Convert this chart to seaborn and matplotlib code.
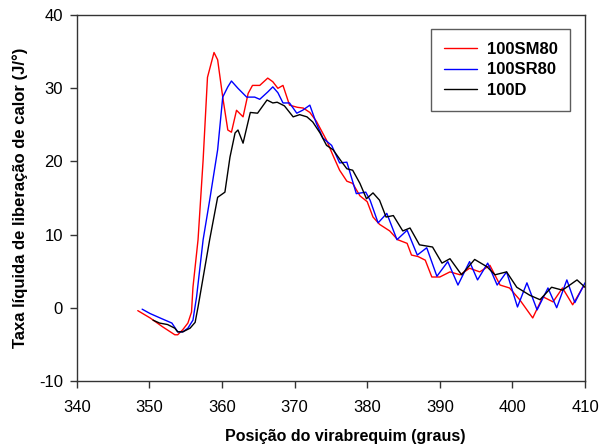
import matplotlib
matplotlib.use("Agg")
import matplotlib.pyplot as plt
import seaborn as sns
import pandas as pd

# ---- data ----
x_sm80 = [348.4, 350.1, 351.8, 353.5, 353.9, 354.6, 355.3, 355.8, 356.0, 356.7, 357.4, 358.0, 358.9, 359.4,
          360.1, 360.8, 361.3, 362.0, 362.9, 363.6, 364.2, 365.2, 366.3, 367.0, 367.7, 368.4, 369.3, 370.4,
          371.2, 372.1, 373.0, 374.4, 375.3, 376.2, 377.2, 378.0, 379.0, 380.0, 380.8, 381.7, 383.1, 384.2,
          385.5, 386.1, 387.0, 388.0, 388.9, 390.0, 391.4, 392.8, 394.1, 395.5, 396.9, 398.3, 399.6, 401.0,
          402.8, 404.2, 405.6, 406.9, 408.3, 409.7, 410.0]
y_sm80 = [-0.4, -1.4, -2.6, -3.7, -3.7, -3.0, -2.1, -0.6, 2.8, 9.3, 20.2, 31.5, 34.9, 33.9,
          28.8, 24.3, 24.0, 27.0, 26.1, 29.3, 30.4, 30.4, 31.4, 30.9, 30.0, 30.4, 27.7, 27.4,
          27.3, 26.7, 25.5, 22.9, 20.8, 18.8, 17.3, 17.0, 15.3, 14.5, 12.4, 11.4, 10.5, 9.3,
          8.8, 7.2, 7.0, 6.5, 4.2, 4.2, 4.9, 4.5, 5.4, 4.9, 5.8, 3.1, 2.7, 1.1,
          -1.4, 1.5, 0.8, 2.7, 0.4, 2.8, 2.9]

x_sr80 = [349.0, 350.1, 351.7, 353.1, 353.9, 354.6, 355.3, 356.0, 356.5, 357.4, 358.3, 359.4, 360.1, 360.8,
          361.3, 362.2, 363.4, 364.5, 365.2, 366.3, 367.0, 367.7, 368.4, 369.3, 370.3, 371.1, 372.1, 373.0,
          373.9, 375.1, 376.2, 377.2, 378.5, 379.8, 380.4, 381.5, 382.7, 384.1, 385.5, 386.9, 388.2, 389.6,
          391.1, 392.5, 394.1, 395.2, 396.6, 397.9, 399.2, 400.7, 402.0, 403.4, 404.9, 406.1, 407.5, 408.6,
          410.0]
y_sr80 = [-0.2, -0.8, -1.5, -2.1, -3.3, -3.3, -2.8, -1.7, 1.5, 9.3, 14.7, 21.6, 28.8, 30.2,
          31.0, 30.0, 28.8, 28.8, 28.5, 29.5, 30.2, 29.4, 28.0, 28.0, 26.6, 27.0, 27.7, 25.2,
          23.2, 22.2, 19.8, 19.9, 15.6, 15.8, 14.7, 11.6, 12.9, 9.3, 10.6, 7.2, 8.2, 4.3,
          6.3, 3.1, 6.3, 3.8, 6.1, 3.1, 4.9, 0.1, 3.4, -0.3, 2.7, 0.0, 3.8, 0.7,
          3.4]

x_d = [350.5, 351.4, 352.5, 353.5, 353.9, 354.6, 355.6, 356.3, 356.7, 358.3, 359.4, 360.4, 361.1, 361.8,
       362.2, 362.9, 363.9, 364.9, 366.2, 367.0, 367.6, 368.6, 369.8, 370.7, 371.7, 372.5, 373.5, 374.4,
       375.3, 376.3, 377.2, 378.0, 379.0, 379.9, 380.8, 381.7, 382.6, 383.6, 384.9, 385.9, 387.2, 389.0,
       390.3, 391.4, 393.0, 394.8, 396.5, 397.6, 399.2, 400.6, 402.4, 403.8, 405.4, 406.9, 408.9, 410.0]
y_d = [-1.7, -2.1, -2.3, -2.8, -3.3, -3.3, -2.8, -2.0, 0.1, 9.3, 15.1, 15.8, 20.6, 23.9,
       24.3, 22.5, 26.7, 26.6, 28.4, 28.0, 28.1, 27.6, 26.1, 26.4, 26.1, 25.4, 23.9, 22.2,
       21.6, 20.2, 19.0, 18.8, 17.0, 14.9, 15.7, 14.7, 12.4, 12.6, 10.5, 10.9, 8.6, 8.3,
       6.1, 6.7, 4.5, 6.6, 5.6, 4.5, 4.9, 2.8, 1.7, 1.1, 2.8, 2.4, 3.8, 2.8]

series_names = ["100SM80", "100SR80", "100D"]
series_colors = ["#ff0000", "#0000ff", "#000000"]

df = pd.concat([
    pd.DataFrame({"x": x_sm80, "y": y_sm80, "serie": series_names[0]}),
    pd.DataFrame({"x": x_sr80, "y": y_sr80, "serie": series_names[1]}),
    pd.DataFrame({"x": x_d, "y": y_d, "serie": series_names[2]}),
], ignore_index=True)

sns.set_style("ticks")
plt.rcParams["font.family"] = ["Liberation Sans", "DejaVu Sans"]
plt.rcParams["axes.unicode_minus"] = False
plt.rcParams["text.color"] = "black"
plt.rcParams["axes.labelcolor"] = "black"
plt.rcParams["xtick.color"] = "black"
plt.rcParams["ytick.color"] = "black"

fig = plt.figure(figsize=(6.0, 4.47), dpi=100)
ax = fig.add_axes([0.128, 0.148, 0.847, 0.818])

sns.lineplot(data=df, x="x", y="y", hue="serie", palette=dict(zip(series_names, series_colors)),
             hue_order=series_names, sort=False, estimator=None, linewidth=1.0, ax=ax)

ax.set_xlim(340, 410)
ax.set_ylim(-10, 40)
ax.set_xticks(range(340, 411, 10))
ax.set_yticks(range(-10, 41, 10))
for s in ax.spines.values():
    s.set_color("#333333")
    s.set_linewidth(1.0)
ax.tick_params(axis="both", direction="out", length=5, width=1, color="#333333",
               labelsize=12, labelcolor="black")
ax.tick_params(axis="x", pad=9)
ax.tick_params(axis="y", pad=5)
ax.tick_params(top=False, right=False)

ax.set_xlabel("Posição do virabrequim (graus)", fontsize=11.5, fontweight="bold")
ax.xaxis.set_label_coords(0.528, -0.132)
ax.set_ylabel("Taxa líquida de liberação de calor (J/°)", fontsize=12, fontweight="bold", labelpad=8)

leg = ax.legend(loc="upper right", bbox_to_anchor=(0.971, 0.962), frameon=True, fancybox=False,
                handlelength=2.0, handletextpad=0.6, borderpad=0.75, labelspacing=0.35,
                borderaxespad=0.0, prop={"weight": "bold", "size": 12})
leg.get_frame().set_edgecolor("#333333")
leg.get_frame().set_linewidth(1.0)
leg.set_title(None)

fig.savefig("out.png", dpi=100)
